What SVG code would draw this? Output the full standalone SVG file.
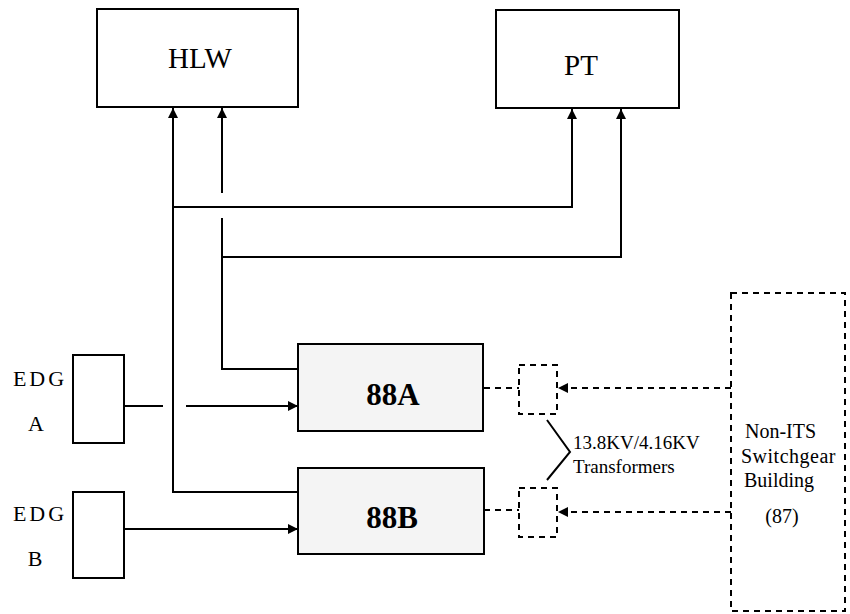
<svg xmlns="http://www.w3.org/2000/svg" width="850" height="614" viewBox="0 0 850 614">
<defs>
<marker id="ah" viewBox="0 0 10 10" refX="10" refY="5" markerWidth="11" markerHeight="10" markerUnits="userSpaceOnUse" orient="auto">
<path d="M0,0 L10,5 L0,10 Z" fill="#000"/>
</marker>
</defs>
<style>
.box{fill:#fff;stroke:#000;stroke-width:2}
.sub{fill:#f4f4f4;stroke:#000;stroke-width:2}
.dbox{fill:none;stroke:#000;stroke-width:2;stroke-dasharray:6,5}
.ln{fill:none;stroke:#000;stroke-width:2}
.dl{fill:none;stroke:#000;stroke-width:2;stroke-dasharray:6,5}
text{font-family:"Liberation Serif","Times New Roman",serif;fill:#000}
.big{font-size:29px}
.bold{font-size:31px;font-weight:bold}
.lab{font-size:22px}
.sm{font-size:19px}
.bl{font-size:20px}
</style>
<rect width="850" height="614" fill="#fff"/>
<g id="connectors">
<polyline class="ln" points="298,492 173,492 173,108" marker-end="url(#ah)"/>
<polyline class="ln" points="298,369 222,369 222,218"/>
<line class="ln" x1="222" y1="193" x2="222" y2="108" marker-end="url(#ah)"/>
<polyline class="ln" points="173,207 572,207 572,109" marker-end="url(#ah)"/>
<polyline class="ln" points="222,257 621,257 621,109" marker-end="url(#ah)"/>
<line class="ln" x1="124" y1="406" x2="163" y2="406"/>
<line class="ln" x1="186" y1="406" x2="298" y2="406" marker-end="url(#ah)"/>
<line class="ln" x1="124" y1="529" x2="298" y2="529" marker-end="url(#ah)"/>
<line class="dl" x1="484" y1="388" x2="519" y2="388"/>
<line class="dl" x1="484" y1="510" x2="519" y2="510"/>
<line class="dl" x1="731" y1="388" x2="558" y2="388" marker-end="url(#ah)"/>
<line class="dl" x1="731" y1="512" x2="558" y2="512" marker-end="url(#ah)"/>
<polyline class="ln" stroke-width="1.6" points="547,420 570,452 547,480"/>
</g>
<g id="hlw">
<rect class="box" x="97" y="9" width="201" height="98"/>
<text class="big" x="200" y="68" text-anchor="middle">HLW</text>
</g>
<g id="pt">
<rect class="box" x="496" y="10" width="183" height="98"/>
<text class="big" x="581" y="75" text-anchor="middle">PT</text>
</g>
<g id="edgA">
<rect class="box" x="73" y="355" width="51" height="88"/>
<text class="lab" x="40" y="386" text-anchor="middle" letter-spacing="3">EDG</text>
<text class="lab" x="36" y="431" text-anchor="middle">A</text>
</g>
<g id="edgB">
<rect class="box" x="73" y="492" width="51" height="86"/>
<text class="lab" x="40" y="521" text-anchor="middle" letter-spacing="3">EDG</text>
<text class="lab" x="35" y="566" text-anchor="middle">B</text>
</g>
<g id="b88A">
<rect class="sub" x="298" y="344" width="185" height="87"/>
<text class="bold" x="393" y="405" text-anchor="middle">88A</text>
</g>
<g id="b88B">
<rect class="sub" x="298" y="468" width="186" height="86"/>
<text class="bold" x="392" y="528" text-anchor="middle">88B</text>
</g>
<g id="trA">
<rect class="dbox" x="519" y="365" width="38" height="49"/>
</g>
<g id="trB">
<rect class="dbox" x="519" y="488" width="38" height="49"/>
</g>
<g id="trLabel">
<text class="sm" x="573" y="449">13.8KV/4.16KV</text>
<text class="sm" x="573" y="473">Transformers</text>
</g>
<g id="building">
<rect class="dbox" x="731" y="293" width="114" height="318"/>
<text class="bl" x="745" y="438">Non-ITS</text>
<text class="bl" x="741" y="463" letter-spacing="0.5">Switchgear</text>
<text class="bl" x="744" y="487">Building</text>
<text class="bl" x="782" y="523" text-anchor="middle">(87)</text>
</g>
</svg>
